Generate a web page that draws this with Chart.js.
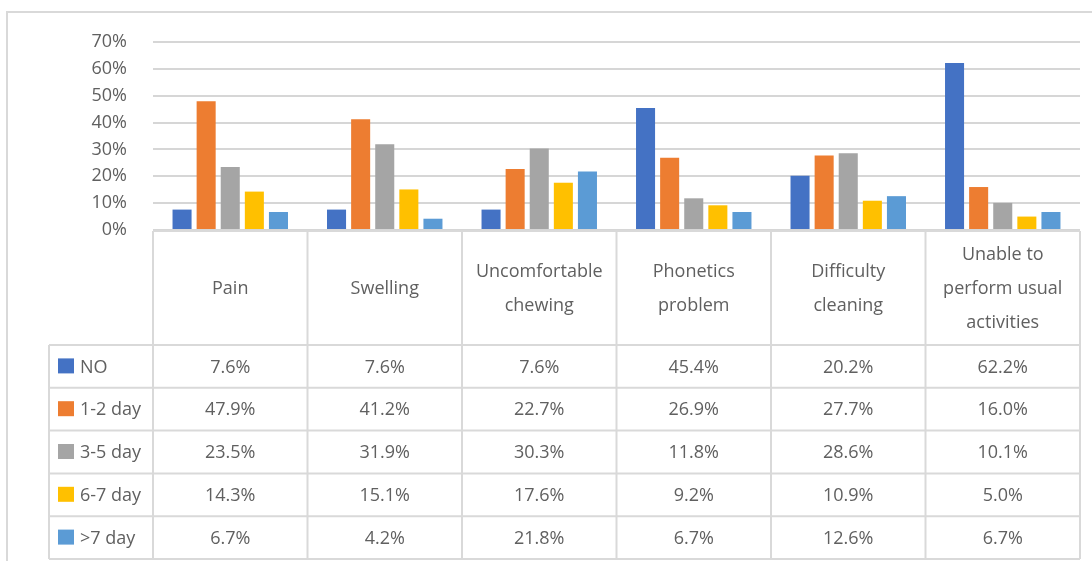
<!DOCTYPE html>
<html>
<head>
<meta charset="utf-8">
<script src="https://cdn.jsdelivr.net/npm/chart.js@4"></script>
<style>
  body { margin: 0; background: #fff; }
  canvas { display: block; }
</style>
</head>
<body>
<canvas id="myChart" width="1092" height="561"></canvas>
<script>
const categories = [
  ['Pain'],
  ['Swelling'],
  ['Uncomfortable', 'chewing'],
  ['Phonetics', 'problem'],
  ['Difficulty', 'cleaning'],
  ['Unable to', 'perform usual', 'activities']
]
const seriesNames = ['NO', '1-2 day', '3-5 day', '6-7 day', '>7 day']
const noDays = [7.6, 7.6, 7.6, 45.4, 20.2, 62.2]
const days1to2 = [47.9, 41.2, 22.7, 26.9, 27.7, 16.0]
const days3to5 = [23.5, 31.9, 30.3, 11.8, 28.6, 10.1]
const days6to7 = [14.3, 15.1, 17.6, 9.2, 10.9, 5.0]
const over7days = [6.7, 4.2, 21.8, 6.7, 12.6, 6.7]
const colors = ['#4472C4', '#ED7D31', '#A5A5A5', '#FFC000', '#5B9BD5']

const allSeries = [noDays, days1to2, days3to5, days6to7, over7days]
const textColor = '#606060'
const lineColor = '#d9d9d9'
const fontName = '"Open Sans", sans-serif'

// draws the frame and the data table under the plot
const tablePlugin = {
  id: 'dataTable',
  afterDraw(chart) {
    const ctx = chart.ctx
    const x = chart.scales.x
    const area = chart.chartArea
    const n = categories.length
    const colW = (x.right - x.left) / n
    const headH = 114
    const rowH = 42.8
    const tableLeft = 49
    const top = area.bottom + 1
    const rowsTop = top + headH

    ctx.save()
    // outer frame (cropped at right/bottom)
    ctx.strokeStyle = lineColor
    ctx.lineWidth = 2
    ctx.beginPath()
    ctx.moveTo(7, 561)
    ctx.lineTo(7, 12)
    ctx.lineTo(1092, 12)
    ctx.stroke()

    // table lines
    ctx.beginPath()
    ctx.moveTo(x.left, top)
    ctx.lineTo(x.right, top)
    for (let r = 0; r <= seriesNames.length; r++) {
      const y = rowsTop + r * rowH
      ctx.moveTo(tableLeft, y)
      ctx.lineTo(x.right, y)
    }
    for (let c = 0; c <= n; c++) {
      const xx = x.left + c * colW
      ctx.moveTo(xx, top)
      ctx.lineTo(xx, rowsTop + seriesNames.length * rowH)
    }
    ctx.moveTo(tableLeft, rowsTop)
    ctx.lineTo(tableLeft, rowsTop + seriesNames.length * rowH)
    ctx.stroke()

    ctx.fillStyle = textColor
    ctx.font = '18px ' + fontName
    ctx.textAlign = 'center'
    ctx.textBaseline = 'middle'

    // category header
    const lineH = 34
    categories.forEach((lines, i) => {
      const cx = x.getPixelForValue(i)
      const cy = top + headH / 2 + 1
      lines.forEach((t, k) => {
        ctx.fillText(t, cx, cy + (k - (lines.length - 1) / 2) * lineH)
      })
    })

    // rows
    seriesNames.forEach((name, r) => {
      const cy = rowsTop + r * rowH + rowH / 2 + 1
      ctx.fillStyle = colors[r]
      ctx.fillRect(58, cy - 9, 16, 15)
      ctx.fillStyle = textColor
      ctx.textAlign = 'left'
      ctx.fillText(name, 80, cy)
      ctx.textAlign = 'center'
      allSeries[r].forEach((v, i) => {
        ctx.fillText(v.toFixed(1) + '%', x.getPixelForValue(i), cy)
      })
    })
    ctx.restore()
  }
}

const config = {
  type: 'bar',
  data: {
    labels: categories.map((c) => c.join(' ')),
    datasets: seriesNames.map((name, i) => ({
      label: name,
      data: allSeries[i],
      backgroundColor: colors[i],
      categoryPercentage: 0.78,
      barPercentage: 0.79
    }))
  },
  options: {
    responsive: false,
    animation: false,
    layout: {
      padding: { left: 0, top: 42, right: 12, bottom: 331 }
    },
    scales: {
      x: {
        display: false
      },
      y: {
        min: 0,
        max: 70,
        afterFit: (scale) => { scale.width = 153 },
        border: { display: false },
        grid: {
          drawTicks: false,
          lineWidth: (c) => (c.tick && c.tick.value % 10 === 0 ? 2 : 1.5),
          color: (c) => (c.tick && c.tick.value % 10 === 0 ? '#d6d6d6' : '#e9e9e9')
        },
        ticks: {
          stepSize: 2,
          padding: 26,
          color: textColor,
          font: { family: fontName, size: 18 },
          callback: (v) => (v % 10 === 0 ? v + '%' : '')
        }
      }
    },
    plugins: {
      legend: { display: false },
      tooltip: { enabled: false }
    }
  },
  plugins: [tablePlugin]
}

const myChart = new Chart(document.getElementById('myChart'), config)
</script>
</body>
</html>
